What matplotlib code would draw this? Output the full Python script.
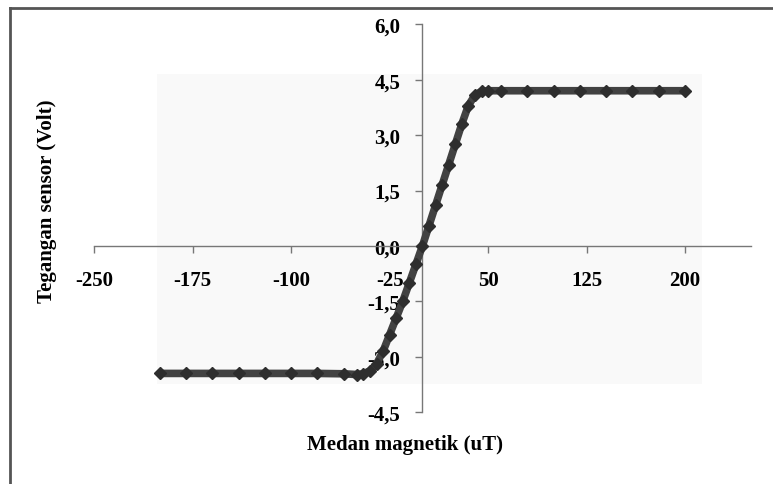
import matplotlib.pyplot as plt
from matplotlib.patches import Rectangle
from matplotlib.lines import Line2D

# Data: magnetic field (uT) vs sensor voltage (V)
medan = [-200, -180, -160, -140, -120, -100, -80, -60, -50, -45,
         -40, -35, -30, -25, -20, -15, -10, -5, 0, 5,
         10, 15, 20, 25, 30, 35, 40, 45, 50, 60,
         80, 100, 120, 140, 160, 180, 200]
tegangan = [-3.45, -3.45, -3.45, -3.45, -3.45, -3.45, -3.45, -3.46, -3.48, -3.46,
            -3.38, -3.2, -2.85, -2.4, -1.95, -1.5, -1.0, -0.5, 0.0, 0.55,
            1.1, 1.65, 2.2, 2.75, 3.3, 3.8, 4.08, 4.18, 4.2, 4.2,
            4.2, 4.2, 4.2, 4.2, 4.2, 4.2, 4.2]

x_ticks = [-250, -175, -100, -25, 50, 125, 200]
y_ticks = [-4.5, -3.0, -1.5, 0.0, 1.5, 3.0, 4.5, 6.0]
y_tick_labels = ["-4,5", "-3,0", "-1,5", "0,0", "1,5", "3,0", "4,5", "6,0"]

plt.rcParams["font.family"] = ["Liberation Serif", "DejaVu Serif"]
plt.rcParams["font.weight"] = "bold"

fig = plt.figure(figsize=(7.73, 4.85), dpi=100)
ax = fig.add_axes([0.122, 0.148, 0.849, 0.8])
ax.patch.set_visible(False)

# faint plot-area background and the outer chart border (left/top visible)
fig.add_artist(Rectangle((157 / 773, 1 - 385 / 485), (702 - 157) / 773, (385 - 75) / 485,
                         transform=fig.transFigure, facecolor="#f9f9f9",
                         edgecolor="none", zorder=-5))
fig.add_artist(Line2D([10 / 773, 10 / 773], [0, 1 - 9 / 485], transform=fig.transFigure,
                      color="#555555", lw=2))
fig.add_artist(Line2D([10 / 773, 1], [1 - 9 / 485, 1 - 9 / 485], transform=fig.transFigure,
                      color="#555555", lw=2))

ax.plot(medan, tegangan, color="#424242", lw=5.5, marker="D", markersize=6.5,
        markerfacecolor="#2e2e2e", markeredgecolor="#2e2e2e", solid_joinstyle="round",
        solid_capstyle="round", zorder=3)

ax.set_xlim(-250, 250)
ax.set_ylim(-4.5, 6.0)

# axes cross at the origin, Excel style
ax.spines["left"].set_position(("data", 0))
ax.spines["bottom"].set_position(("data", 0))
ax.spines["top"].set_visible(False)
ax.spines["right"].set_visible(False)
for s in ("left", "bottom"):
    ax.spines[s].set_color("#777777")
    ax.spines[s].set_linewidth(1.0)

ax.set_xticks(x_ticks)
ax.set_xticklabels([str(v) for v in x_ticks])
ax.set_yticks(y_ticks)
ax.set_yticklabels(y_tick_labels)
ax.tick_params(axis="x", direction="out", length=5, width=1, color="#777777",
               pad=12, labelsize=15)
ax.tick_params(axis="y", direction="out", length=5, width=1, color="#777777",
               pad=11, labelsize=15)

fig.text(405 / 773, 1 - 445 / 485, "Medan magnetik (uT)", ha="center", va="center",
         fontsize=15, fontweight="bold")
fig.text(47 / 773, 1 - 201 / 485, "Tegangan sensor (Volt)", ha="center", va="center",
         rotation=90, fontsize=15, fontweight="bold")

plt.savefig("out.png", dpi=100)
